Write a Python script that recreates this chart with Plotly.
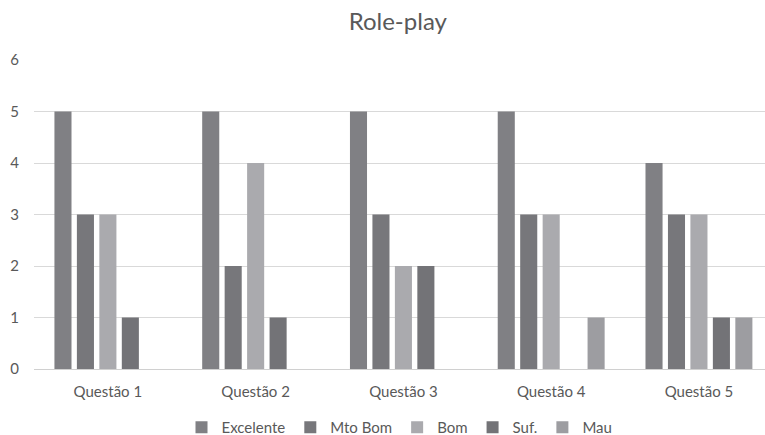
import plotly.graph_objects as go

categories = ["Questão 1", "Questão 2", "Questão 3", "Questão 4", "Questão 5"]
series_names = ["Excelente", "Mto Bom", "Bom", "Suf.", "Mau"]
excelente = [5, 5, 5, 5, 4]
mto_bom = [3, 2, 3, 3, 3]
bom = [3, 4, 2, 3, 3]
suf = [1, 1, 2, 0, 1]
mau = [0, 0, 0, 1, 1]
colors = ["#808084", "#77777b", "#aaaaae", "#737377", "#9d9da1"]

values = [excelente, mto_bom, bom, suf, mau]

font_family = "Lato, 'Open Sans', sans-serif"
text_color = "#595959"

fig = go.Figure()
for name, vals, col in zip(series_names, values, colors):
    fig.add_trace(go.Bar(
        x=categories,
        y=vals,
        name=name,
        marker=dict(color=col, line=dict(width=0)),
    ))

fig.update_layout(
    width=765,
    height=435,
    barmode="group",
    bargap=0.24,
    bargroupgap=0.24,
    plot_bgcolor="white",
    paper_bgcolor="white",
    margin=dict(l=34, r=0, t=60, b=66, autoexpand=False),
    title=dict(
        text="Role-play",
        x=0.52,
        xanchor="center",
        y=0.95,
        yanchor="middle",
        font=dict(family=font_family, size=24, color=text_color),
    ),
    font=dict(family=font_family, size=15, color=text_color),
    legend=dict(
        orientation="h",
        x=0.5,
        xanchor="center",
        yref="container",
        y=0.017,
        yanchor="middle",
        font=dict(size=15, color=text_color),
        traceorder="normal",
        itemwidth=30,
    ),
    showlegend=True,
)

fig.update_xaxes(
    range=[-0.5, 4.447],
    showgrid=False,
    showline=False,
    ticks="",
    ticklabelstandoff=12,
    tickfont=dict(size=15, color=text_color),
)
fig.update_yaxes(
    range=[0, 6],
    dtick=1,
    showgrid=True,
    gridcolor="#d9d9d9",
    gridwidth=1,
    zeroline=True,
    zerolinecolor="#d0d0d0",
    zerolinewidth=1,
    ticks="",
    ticklabelstandoff=14,
    tickfont=dict(size=15, color=text_color),
)

fig.write_html("out.html")
